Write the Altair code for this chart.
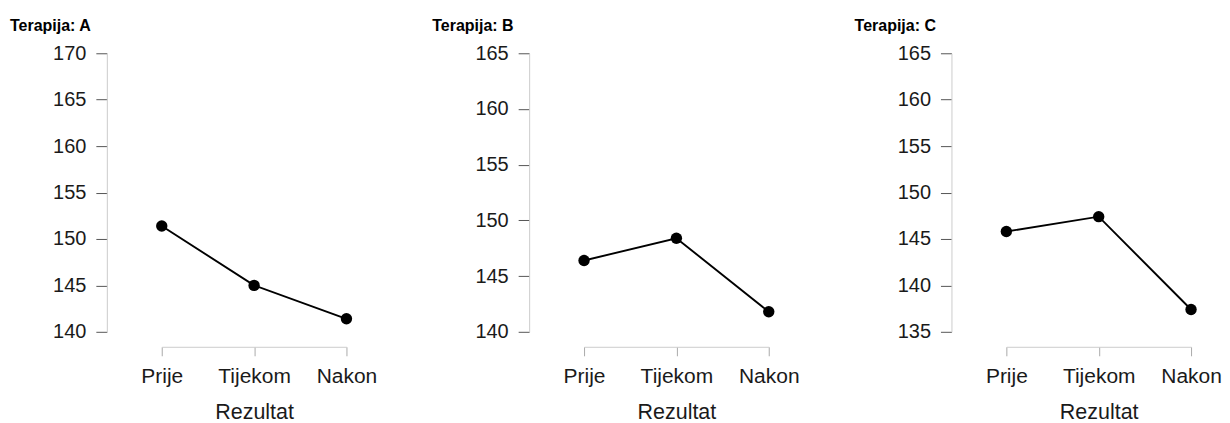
import altair as alt
import pandas as pd

categories = ["Prije", "Tijekom", "Nakon"]
therapies = ["A", "B", "C"]
terapija_a = [151.4, 145.0, 141.4]
terapija_b = [146.4, 148.4, 141.8]
terapija_c = [145.8, 147.4, 137.4]
y_ticks_a = [140, 145, 150, 155, 160, 165, 170]
y_ticks_b = [140, 145, 150, 155, 160, 165]
y_ticks_c = [135, 140, 145, 150, 155, 160, 165]

FONT = "Liberation Sans"


def panel(name, values, ticks):
    df = pd.DataFrame({"Rezultat": categories, "value": values})
    x = alt.X(
        "Rezultat:N",
        sort=categories,
        scale=alt.Scale(type="point", padding=0),
        axis=alt.Axis(
            title="Rezultat",
            labelAngle=0,
            offset=15,
            tickSize=9,
            tickColor="#aaaaaa",
            domainColor="#cccccc",
            labelFontSize=21,
            labelPadding=10,
            titleFontSize=21.5,
            titlePadding=15,
            titleFontWeight="normal",
            labelColor="#1a1a1a",
            titleColor="#1a1a1a",
            labelFont=FONT,
            titleFont=FONT,
        ),
    )
    y = alt.Y(
        "value:Q",
        scale=alt.Scale(domain=[ticks[0], ticks[-1]], nice=False, zero=False),
        axis=alt.Axis(
            title=None,
            values=ticks,
            offset=55,
            grid=False,
            tickSize=11,
            tickColor="#555555",
            domainColor="#cccccc",
            labelFontSize=20,
            labelPadding=10,
            labelColor="#1a1a1a",
            labelFont=FONT,
        ),
    )
    base = alt.Chart(df).encode(x=x, y=y)
    line = base.mark_line(color="black", strokeWidth=1.9)
    pts = base.mark_circle(color="black", size=130, opacity=1)
    return alt.layer(line, pts).properties(
        width=185,
        height=279,
        title=alt.TitleParams(
            f"Terapija: {name}",
            anchor="start",
            frame="group",
            dx=-152,
            offset=9,
            fontSize=16,
            fontWeight="bold",
            font=FONT,
            color="black",
        ),
    )


chart = alt.hconcat(
    panel(therapies[0], terapija_a, y_ticks_a),
    panel(therapies[1], terapija_b, y_ticks_b),
    panel(therapies[2], terapija_c, y_ticks_c),
    spacing=238,
    bounds="flush",
).properties(
    padding={"left": 2, "top": 10, "right": 0, "bottom": 0}
).configure(background="white").configure_view(strokeWidth=0, stroke="transparent")

chart.save("out.html", embed_options={"renderer": "svg", "actions": False})
